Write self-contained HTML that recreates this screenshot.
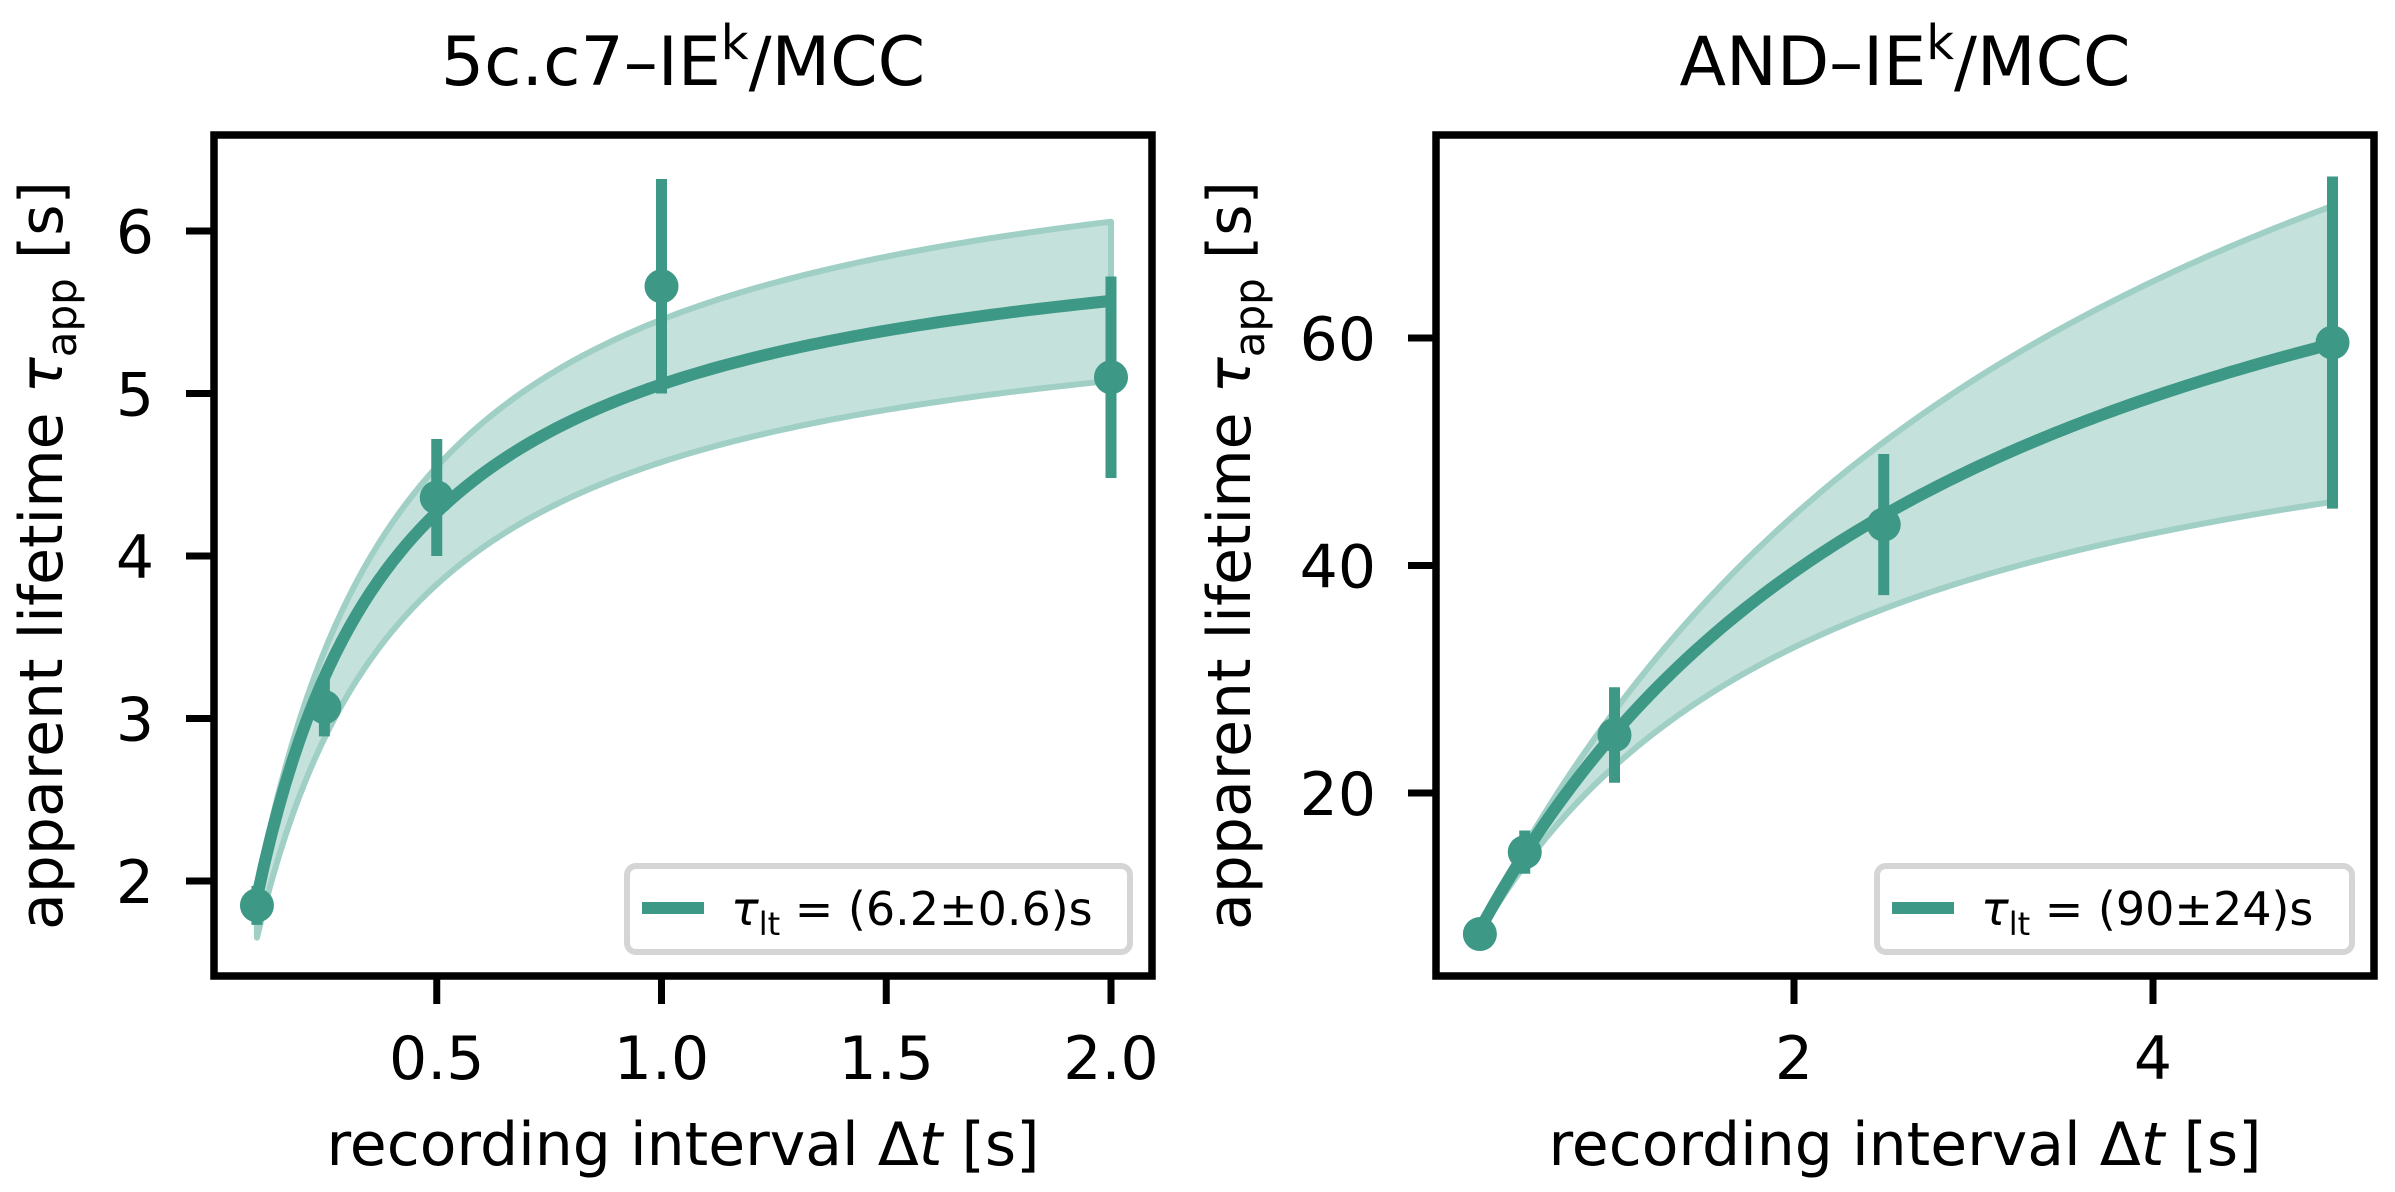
<!DOCTYPE html>
<html><head><meta charset="utf-8"><style>
html,body{margin:0;padding:0;background:#fff;}
svg{display:block;font-family:"DejaVu Sans","Liberation Sans",sans-serif;}
</style></head><body>
<svg id="fig" width="2395" height="1192" viewBox="0 0 2395 1192" xmlns="http://www.w3.org/2000/svg"></svg>
<script>
// ---- Left panel data (5c.c7–IEk/MCC)
const leftX = [0.1, 0.25, 0.5, 1.0, 2.0];
const leftY = [1.85, 3.07, 4.36, 5.66, 5.10];
const leftErr = [0.12, 0.18, 0.36, 0.66, 0.62];
const leftFit = [6.2, 0.0365];      // tau_lt, c
const leftBand = [6.81, 5.7];       // upper tau, lower tau
const leftBandC = [0.0365, 0.043];  // upper c, lower c
const leftXTicks = [0.5, 1.0, 1.5, 2.0];
const leftXTickLabels = ["0.5", "1.0", "1.5", "2.0"];
const leftYTicks = [2, 3, 4, 5, 6];
const leftYTickLabels = ["2", "3", "4", "5", "6"];
// ---- Right panel data (AND–IEk/MCC)
const rightX = [0.25, 0.5, 1.0, 2.5, 5.0];
const rightY = [7.6, 14.8, 25.1, 43.6, 59.6];
const rightErr = [1.0, 1.9, 4.2, 6.2, 14.6];
const rightFit = [90, 0.0285];
const rightBand = [121, 61.6];
const rightBandC = [0.0285, 0.0285];
const rightXTicks = [2, 4];
const rightXTickLabels = ["2", "4"];
const rightYTicks = [20, 40, 60];
const rightYTickLabels = ["20", "40", "60"];

const NS = "http://www.w3.org/2000/svg";
const svg = document.getElementById("fig");
const C = "#3d9886";
function mk(tag, attrs, parent) {
  const e = document.createElementNS(NS, tag);
  for (const k in attrs) e.setAttribute(k, attrs[k]);
  (parent || svg).appendChild(e);
  return e;
}
function model(t, tau, c) { return 1 / (1 / tau + c / t); }

function panel(o) {
  const g = mk("g", {});
  
  
  const sx = v => o.x0 + v * o.kx;
  const sy = v => o.y0 - v * o.ky;
  const N = 120;
  const up = [], lo = [];
  for (let i = 0; i <= N; i++) {
    const t = o.fr[0] + (o.fr[1] - o.fr[0]) * i / N;
    up.push([sx(t), sy(model(t, o.band[0], o.bandC[0]))]);
    lo.push([sx(t), sy(model(t, o.band[1], o.bandC[1]))]);
  }
  const poly = up.concat(lo.slice().reverse()).map(p => p.join(",")).join(" ");
  const band = mk("polygon", {points: poly, fill: "#c5e1dc", stroke: "#a0cfc6", "stroke-width": 6, "stroke-linejoin": "round"}, g);
  
  
  const fp = [];
  for (let i = 0; i <= N; i++) {
    const t = o.fr[0] + (o.fr[1] - o.fr[0]) * i / N;
    fp.push(sx(t) + "," + sy(model(t, o.fit[0], o.fit[1])));
  }
  const fl = mk("polyline", {points: fp.join(" "), fill: "none", stroke: C, "stroke-width": 12, "stroke-linejoin": "round"}, g);
  
  
  o.xs.forEach((xv, i) => {
    const eb = mk("line", {x1: sx(xv), x2: sx(xv), y1: sy(o.ys[i] - o.err[i]), y2: sy(o.ys[i] + o.err[i]), stroke: C, "stroke-width": 11}, g);
    
    
    const pt = mk("ellipse", {cx: sx(xv), cy: sy(o.ys[i]), rx: 17, ry: 17, fill: C}, g);
    
    
  });
  const fr = mk("rect", {x: o.L, y: o.T, width: o.R - o.L, height: o.B - o.T, fill: "none", stroke: "#000", "stroke-width": 7.5}, g);
  
  
  o.xt.forEach((v, i) => {
    const tk = mk("line", {x1: sx(v), x2: sx(v), y1: o.B, y2: o.B + 28, stroke: "#000", "stroke-width": 7}, g);
    
    
    const tl = mk("text", {x: sx(v), y: 1079, "text-anchor": "middle", "font-size": 60}, g);
    tl.textContent = o.xtl[i];
    
    
  });
  o.yt.forEach((v, i) => {
    const tk = mk("line", {x1: o.L - 28, x2: o.L, y1: sy(v), y2: sy(v), stroke: "#000", "stroke-width": 7}, g);
    
    
    const tl = mk("text", {x: o.L - 60, y: sy(v) + 22, "text-anchor": "end", "font-size": 60}, g);
    tl.textContent = o.ytl[i];
    
    
  });
  const cx = (o.L + o.R) / 2;
  const ti = mk("text", {x: cx, y: 85, "text-anchor": "middle", "font-size": 68}, g);
  ti.innerHTML = o.title + '–IE<tspan dy="-26" font-size="48">k</tspan><tspan dy="26">/MCC</tspan>';
  
  
  const xl = mk("text", {x: cx, y: 1165, "text-anchor": "middle", "font-size": 60}, g);
  xl.innerHTML = 'recording interval Δ<tspan font-style="italic">t</tspan> [s]';
  
  
  const yl = mk("text", {x: 0, y: 0, "text-anchor": "middle", "font-size": 60, transform: `translate(${o.ylx},${(o.T + o.B) / 2}) rotate(-90)`}, g);
  yl.innerHTML = 'apparent lifetime <tspan font-style="italic">τ</tspan><tspan font-size="42" dy="14">app</tspan><tspan dy="-14"> [s]</tspan>';
  
  
  const lg = mk("g", {}, g);
  
  
  mk("rect", {x: o.lg[0], y: 866, width: o.lg[1], height: 86, rx: 9, fill: "#fff", stroke: "#d5d5d5", "stroke-width": 6}, lg);
  mk("line", {x1: o.lg[0] + 15, x2: o.lg[0] + 77, y1: 908, y2: 908, stroke: C, "stroke-width": 12}, lg);
  const lt = mk("text", {x: o.lg[0] + 104, y: 925, "font-size": 46}, lg);
  lt.innerHTML = '<tspan font-style="italic">τ</tspan><tspan font-size="32" dy="10">lt</tspan><tspan dy="-10"> = ' + o.legend + 's</tspan>';
  
  
}

panel({name: "left-panel", L: 214, R: 1152, T: 135, B: 976, x0: 212, kx: 449.5, y0: 1206, ky: 162.5,
  xs: leftX, ys: leftY, err: leftErr, fit: leftFit, band: leftBand, bandC: leftBandC, fr: [0.1, 2.0],
  xt: leftXTicks, xtl: leftXTickLabels, yt: leftYTicks, ytl: leftYTickLabels,
  title: "5c.c7", ylx: 62, lg: [627, 503], legend: "(6.2±0.6)"});
panel({name: "right-panel", L: 1436, R: 2374, T: 135, B: 976, x0: 1435, kx: 179.5, y0: 1020.5, ky: 11.375,
  xs: rightX, ys: rightY, err: rightErr, fit: rightFit, band: rightBand, bandC: rightBandC, fr: [0.25, 5.0],
  xt: rightXTicks, xtl: rightXTickLabels, yt: rightYTicks, ytl: rightYTickLabels,
  title: "AND", ylx: 1250, lg: [1877, 475], legend: "(90±24)"});
</script>
</body></html>
